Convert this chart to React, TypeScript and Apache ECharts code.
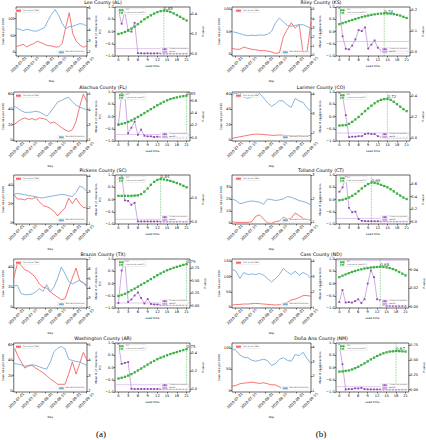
import React, { useEffect, useRef } from "react";
import * as echarts from "echarts";

const FONT = "DejaVu Sans";
const RED = "#f26565";
const BLUE = "#78acd6";
const GREEN = "#3cb043";
const PURPLE_LINE = "#bb8fd8";
const PURPLE_MARK = "#8e44ad";
const ALPHA_COLOR = "#c9a6e3";

const DATE_START = "2020-06-28";
const DATE_END = "2020-09-16";
const DATE_TICKS = ["2020-07-01", "2020-07-15", "2020-08-01", "2020-08-15", "2020-09-01", "2020-09-15"];
const SAMPLE_DATES = [
  "2020-06-28", "2020-07-02", "2020-07-06", "2020-07-10", "2020-07-14", "2020-07-18", "2020-07-22",
  "2020-07-26", "2020-07-30", "2020-08-03", "2020-08-07", "2020-08-11", "2020-08-15", "2020-08-19",
  "2020-08-23", "2020-08-27", "2020-08-31", "2020-09-04", "2020-09-08", "2020-09-12", "2020-09-16",
];
const LEAD_TIMES = [0, 1, 2, 3, 4, 5, 6, 7, 8, 9, 10, 11, 12, 13, 14, 15, 16, 17, 18, 19, 20, 21];
const LEAD_TICKS = [0, 3, 6, 9, 12, 15, 18, 21];
const LEAD_RANGE = [-1.05, 22.05];
const PCC_RANGE = [-1, 1];
const PCC_TICKS = [-1, -0.5, 0, 0.5, 1];
const ALPHA = 0.05;

const COUNTY_NAMES = [
  "Lee County (AL)", "Alachua County (FL)", "Pickens County (SC)", "Brazos County (TX)", "Washington County (AR)",
  "Riley County (KS)", "Larimer County (CO)", "Tolland County (CT)", "Cass County (ND)", "Doña Ana County (NM)",
];

// Case rate per 100K (left axis of left panels)
const LEE_CASE = [17, 20, 24, 16, 22, 26, 33, 29, 24, 20, 19, 16, 16, 26, 74, 118, 55, 33, 22, 15, 20];
const ALACHUA_CASE = [20, 23.5, 27, 29, 26.7, 28, 26, 29, 28, 26.7, 21.8, 23.5, 20, 16.4, 13.3, 11, 13.3, 24.4, 44, 60, 50];
const PICKENS_CASE = [30, 25, 25, 24, 26, 25, 27, 22, 18, 17, 15, 12, 7, 12, 15.5, 26, 20, 26, 20, 16, 15.5];
const BRAZOS_CASE = [29, 44, 41.7, 37.3, 35.7, 33, 29, 23, 19.7, 19, 15, 12.3, 9.7, 7.3, 8.3, 19, 29, 39, 26.3, 24, 21.7];
const WASHINGTON_CASE = [57.8, 46.7, 37.8, 29.8, 32.4, 33.3, 29.8, 26.7, 23.6, 20, 15.6, 12.4, 8.9, 8.9, 8.9, 22.2, 37.8, 22, 35.6, 50, 40];
const RILEY_CASE = [13, 11, 11, 16, 13, 11, 10, 8, 8, 7, 5, 2, 3, 39, 55, 70, 58, 66, 2, 5, 72];
const LARIMER_CASE = [2, 3, 4, 5, 6, 7, 7.5, 7.5, 7, 6.5, 6, 6, 6.5, 6, 5.5, 5, 5, 5.5, 5, 5, 6];
const TOLLAND_CASE = [1.4, 0.8, 0.8, 0.8, 0.8, 1.4, 5.8, 7, 3.6, 0.3, 0, 1.4, 2, 5, 3.6, 4.2, 8.6, 6.4, 4.2, 3, 3];
const CASS_CASE = [7.7, 8.8, 9.8, 10.9, 10.9, 12, 13, 12, 10.9, 9.8, 8.8, 7.7, 8.8, 9.8, 16.4, 24, 27, 31.7, 38.3, 38.3, 36];
const DONA_CASE = [10.6, 12.2, 16.3, 17.9, 18.7, 20.3, 18.7, 17, 18.7, 16.3, 13.8, 13.8, 8.9, 4];

// Mean # of interactions (right axis of left panels)
const LEE_MOB = [4.11, 4.06, 3.92, 4.06, 3.97, 3.89, 3.89, 4.06, 4.19, 4.83, 5.39, 5.81, 5.31, 4.56, 4.11, 4.28, 4.33, 4.44, 4.56, 4.5, 4.33];
const ALACHUA_MOB = [4.22, 4.11, 3.93, 3.82, 3.82, 3.84, 3.89, 3.84, 3.71, 3.56, 3.84, 4.16, 4.51, 4.6, 4.73, 4.82, 4.51, 4.29, 4.16, 4.07, 3.98];
const PICKENS_MOB = [2.86, 2.9, 2.86, 2.82, 2.78, 2.74, 2.7, 2.64, 2.62, 2.68, 2.72, 2.76, 2.8, 2.84, 2.82, 2.76, 2.7, 2.96, 3.36, 3.26, 3.0];
const BRAZOS_MOB = [4.24, 4.31, 3.45, 3.34, 3.34, 3.41, 3.62, 3.97, 3.69, 4.38, 3.62, 4.14, 5.07, 6.21, 5.52, 4.72, 4.45, 4.66, 4.83, 4.59, 4.1];
const WASHINGTON_MOB = [3.78, 3.76, 3.71, 3.62, 3.67, 3.71, 3.67, 3.58, 3.49, 3.44, 3.89, 4.56, 4.78, 4.89, 4.73, 4.07, 3.98, 3.93, 3.89, 3.78, 3.67];
const RILEY_MOB = [2.59, 2.48, 2.37, 2.22, 2.15, 2.19, 2.15, 2.22, 2.19, 2.3, 2.59, 3.52, 4.07, 3.63, 3.26, 3.15, 3.26, 3.33, 3.33, 3.15, 2.89];
const LARIMER_MOB = [4.0, 4.04, 4.1, 3.86, 3.79, 3.86, 3.96, 4.04, 3.82, 3.56, 3.37, 3.51, 3.68, 3.65, 3.44, 3.33, 3.79, 3.65, 3.58, 3.3, 3.12];
const TOLLAND_MOB = [2.0, 1.93, 1.8, 1.83, 1.89, 1.91, 1.89, 1.86, 1.77, 2.0, 1.97, 1.93, 1.96, 2.0, 2.1, 2.07, 2.0, 1.93, 1.89, 1.83, 1.74];
const CASS_MOB = [3.48, 3.35, 2.87, 3.26, 3.13, 3.17, 3.13, 3.2, 3.09, 2.87, 2.65, 2.87, 3.13, 3.52, 3.3, 3.13, 3.35, 3.09, 3.26, 3.13, 2.87];
const DONA_MOB = [3.9, 3.81, 3.48, 3.33, 3.29, 3.12, 3.05, 3.12, 3.19, 3.1, 2.76, 2.88, 3.19, 3.29, 3.12, 3.05, 3.52, 3.43, 3.67, 3.24, 2.88];

// PCC by lead time
const LEE_PCC = [-0.1, -0.07, -0.02, 0.05, 0.12, 0.2, 0.3, 0.4, 0.5, 0.58, 0.66, 0.73, 0.79, 0.83, 0.85, 0.84, 0.8, 0.74, 0.67, 0.6, 0.52, 0.45];
const ALACHUA_PCC = [-0.33, -0.3, -0.27, -0.22, -0.16, -0.09, -0.02, 0.06, 0.14, 0.22, 0.3, 0.38, 0.46, 0.53, 0.6, 0.66, 0.71, 0.75, 0.78, 0.81, 0.83, 0.85];
const PICKENS_PCC = [0.15, 0.15, 0.15, 0.15, 0.15, 0.16, 0.17, 0.22, 0.32, 0.45, 0.6, 0.72, 0.8, 0.84, 0.82, 0.79, 0.76, 0.72, 0.67, 0.62, 0.56, 0.5];
const BRAZOS_PCC = [-0.51, -0.47, -0.42, -0.35, -0.28, -0.21, -0.13, -0.05, 0.02, 0.1, 0.18, 0.26, 0.34, 0.41, 0.48, 0.54, 0.59, 0.64, 0.68, 0.72, 0.76, 0.79];
const WASHINGTON_PCC = [-0.45, -0.42, -0.38, -0.33, -0.27, -0.2, -0.12, -0.04, 0.04, 0.12, 0.2, 0.27, 0.34, 0.4, 0.45, 0.5, 0.55, 0.59, 0.63, 0.67, 0.71, 0.75];
const RILEY_PCC = [0.3, 0.34, 0.38, 0.43, 0.47, 0.51, 0.55, 0.59, 0.62, 0.65, 0.68, 0.7, 0.72, 0.73, 0.74, 0.735, 0.73, 0.71, 0.68, 0.65, 0.6, 0.55];
const LARIMER_PCC = [-0.37, -0.36, -0.35, -0.3, -0.22, -0.12, -0.02, 0.1, 0.22, 0.33, 0.44, 0.54, 0.62, 0.68, 0.71, 0.72, 0.68, 0.6, 0.5, 0.4, 0.3, 0.22];
const TOLLAND_PCC = [-0.03, -0.01, 0.03, 0.08, 0.15, 0.23, 0.34, 0.45, 0.55, 0.63, 0.69, 0.68, 0.65, 0.6, 0.55, 0.5, 0.42, 0.33, 0.24, 0.16, 0.08, 0.02];
const CASS_PCC = [0.26, 0.32, 0.37, 0.42, 0.47, 0.51, 0.55, 0.58, 0.61, 0.63, 0.65, 0.665, 0.675, 0.68, 0.675, 0.66, 0.63, 0.59, 0.54, 0.47, 0.4, 0.33];
const DONA_PCC = [-0.17, -0.16, -0.14, -0.12, -0.08, -0.03, 0.03, 0.1, 0.17, 0.25, 0.33, 0.4, 0.47, 0.53, 0.58, 0.62, 0.65, 0.66, 0.67, 0.668, 0.66, 0.65];

// P-values by lead time
const LEE_P = [0.435, 0.3, 0.418, 0.23, 0.22, 0.31, 0.004, 0.003, 0.002, 0.003, 0.002, 0.002, 0.003, 0.002, 0.002, 0.002, 0.002, 0.002, 0.002, 0.002, 0.002, 0.002];
const ALACHUA_P = [0.21, 0.71, 0.68, 0.07, 0.16, 0.26, 0.045, 0.13, 0.03, 0.02, 0.02, 0.01, 0.015, 0.01, 0.01, 0.005, 0.005, 0.005, 0.005, 0.005, 0.005, 0.005];
const PICKENS_P = [0.9, 0.96, 0.45, 0.44, 0.36, 0.4, 0.005, 0.004, 0.004, 0.004, 0.004, 0.004, 0.004, 0.004, 0.004, 0.004, 0.004, 0.004, 0.004, 0.004, 0.004, 0.004];
const BRAZOS_P = [0.05, 0.7, 0.88, 0.07, 0.12, 0.2, 0.26, 0.15, 0.04, 0.13, 0.03, 0.02, 0.02, 0.01, 0.01, 0.01, 0.01, 0.01, 0.01, 0.01, 0.01, 0.01];
const WASHINGTON_P = [0.5, 0.28, 0.29, 0.3, 0.005, 0.003, 0.003, 0.003, 0.003, 0.003, 0.003, 0.003, 0.003, 0.003, 0.003, 0.003, 0.003, 0.003, 0.003, 0.003, 0.003, 0.003];
const RILEY_P = [0.21, 0.075, 0.015, 0.012, 0.03, 0.06, 0.105, 0.1, 0.118, 0.016, 0.035, 0.055, 0.02, 0.006, 0.005, 0.004, 0.004, 0.004, 0.003, 0.003, 0.003, 0.003];
const LARIMER_P = [0.43, 0.4, 0.22, 0.01, 0.015, 0.015, 0.02, 0.02, 0.04, 0.045, 0.04, 0.04, 0.02, 0.01, 0.01, 0.01, 0.008, 0.008, 0.008, 0.008, 0.008, 0.008];
const TOLLAND_P = [0.48, 0.55, 0.72, 0.22, 0.15, 0.16, 0.04, 0.01, 0.005, 0.005, 0.005, 0.004, 0.004, 0.004, 0.004, 0.004, 0.004, 0.004, 0.004, 0.004, 0.004, 0.004];
const CASS_P = [0.005, 0.018, 0.0045, 0.005, 0.0045, 0.006, 0.008, 0.004, 0.008, 0.025, 0.039, 0.032, 0.008, 0.007, 0.002, 0.001, 0.001, 0.001, 0.001, 0.001, 0.001, 0.001];
const DONA_P = [0.76, 0.43, 0.003, 0.01, 0.01, 0.02, 0.02, 0.03, 0.01, 0.005, 0.005, 0.004, 0.004, 0.004, 0.004, 0.004, 0.004, 0.004, 0.004, 0.004, 0.004, 0.004];

// Axis ranges and tick labels
const CASE_RANGES = [[-11, 135], [-1.5, 63], [-1.5, 50.5], [-1, 48], [-1, 62], [-4, 105], [-1.5, 63], [-0.5, 39.7], [-2, 157], [-3, 112]];
const CASE_TICKS = [[0, 50, 100], [0, 20, 40, 60], [0, 20, 40], [0, 20, 40], [0, 20, 40, 60], [0, 50, 100], [0, 20, 40, 60], [0, 10, 20, 30], [0, 50, 100, 150], [0, 50, 100]];
const MOB_RANGES = [[1.65, 6.05], [1.93, 5.16], [1.0, 4.05], [1.95, 7.05], [1.96, 5.11], [-0.07, 5.26], [1.58, 4.12], [0.93, 3.02], [0.98, 4.13], [0.93, 4.31]];
const MOB_TICKS = [[2, 3, 4, 5, 6], [2, 3, 4, 5], [1, 2, 3, 4], [2, 3, 4, 5, 6, 7], [2, 3, 4, 5], [0, 1, 2, 3, 4, 5], [2, 3, 4], [1, 2, 3], [1, 2, 3, 4], [1, 2, 3, 4]];
const P_RANGES = [[-0.024, 0.468], [-0.055, 0.74], [-0.05, 0.99], [-0.05, 0.93], [-0.03, 0.51], [-0.02, 0.216], [-0.026, 0.44], [-0.04, 0.75], [-0.0014, 0.0515], [-0.04, 0.79]];
const P_TICKS = [[0, 0.2, 0.4], [0, 0.2, 0.4, 0.6], [0, 0.5], [0, 0.25, 0.5, 0.75], [0, 0.2, 0.4], [0, 0.1, 0.2], [0, 0.2, 0.4], [0, 0.2, 0.4, 0.6], [0, 0.02, 0.04], [0, 0.25, 0.5, 0.75]];
const P_DECIMALS = [1, 1, 1, 2, 1, 1, 1, 1, 2, 2];

const CASE_SERIES = [LEE_CASE, ALACHUA_CASE, PICKENS_CASE, BRAZOS_CASE, WASHINGTON_CASE, RILEY_CASE, LARIMER_CASE, TOLLAND_CASE, CASS_CASE, DONA_CASE];
const MOB_SERIES = [LEE_MOB, ALACHUA_MOB, PICKENS_MOB, BRAZOS_MOB, WASHINGTON_MOB, RILEY_MOB, LARIMER_MOB, TOLLAND_MOB, CASS_MOB, DONA_MOB];
const PCC_SERIES = [LEE_PCC, ALACHUA_PCC, PICKENS_PCC, BRAZOS_PCC, WASHINGTON_PCC, RILEY_PCC, LARIMER_PCC, TOLLAND_PCC, CASS_PCC, DONA_PCC];
const P_SERIES = [LEE_P, ALACHUA_P, PICKENS_P, BRAZOS_P, WASHINGTON_P, RILEY_P, LARIMER_P, TOLLAND_P, CASS_P, DONA_P];

// Layout
const W = 426;
const H = 440;
const ROW_TOPS = [7, 92, 175, 259, 343];
const PLOT_H = 49;
const COLS = [
  { left1: 12, width1: 75, left2: 115, width2: 75, center: 103, tag: "(a)" },
  { left1: 232, width1: 79, left2: 336, width2: 74, center: 321, tag: "(b)" },
];

const N_CASE = "Case rate per 100K";
const N_MOB = "Mean # of interactions";
const N_PCC = "PCC";
const N_LEAD = "Lead time for max(PCC)";
const N_P = "Granger test (p-value)";
const N_ALPHA = "α=0.05";

function dayList(start: string, end: string): string[] {
  const out: string[] = [];
  let t = Date.parse(start + "T00:00:00Z");
  const e = Date.parse(end + "T00:00:00Z");
  while (t <= e) {
    out.push(new Date(t).toISOString().slice(0, 10));
    t += 86400000;
  }
  return out;
}

function fmt(v: number, dec: number): string {
  const s = Math.abs(v).toFixed(dec);
  return (v < -1e-9 ? "\u2212" : "") + s;
}

const TICK_STYLE = { color: "#000", width: 0.5 };
const LABEL_BASE = { fontSize: 3.6, color: "#000", fontFamily: FONT };
const NAME_STYLE = { fontSize: 2.8, color: "#000", fontFamily: FONT };
const NO_LINE = { show: false, onZero: false };

function yAxis(gridIndex: number, position: string, range: number[], ticks: number[], dec: number, name: string, nameGap: number) {
  return {
    type: "value",
    gridIndex,
    position,
    min: range[0],
    max: range[1],
    splitLine: { show: false },
    axisLine: NO_LINE,
    axisTick: { show: true, length: 1.5, lineStyle: TICK_STYLE, customValues: ticks },
    axisLabel: { ...LABEL_BASE, show: true, margin: 1.3, customValues: ticks, formatter: (v: number) => fmt(v, dec) },
    name,
    nameLocation: "middle",
    nameRotate: 90,
    nameGap,
    nameTextStyle: NAME_STYLE,
  };
}

function legendBox(data: string[], pos: Record<string, number>) {
  return {
    data,
    ...pos,
    orient: "vertical",
    selectedMode: false,
    itemWidth: 5,
    itemHeight: 1.6,
    itemGap: 0.6,
    padding: [0.7, 1],
    backgroundColor: "rgba(255,255,255,0.85)",
    borderColor: "#cccccc",
    borderWidth: 0.3,
    borderRadius: 0.6,
    textStyle: { fontSize: 1.6, color: "#000", fontFamily: FONT, padding: [0, 0, 0, -3] },
  };
}

function buildOption() {
  const days = dayList(DATE_START, DATE_END);
  const isDateTick = (_i: number, val: string) => DATE_TICKS.includes(val);

  const grid: any[] = [];
  const xAxis: any[] = [];
  const yAxes: any[] = [];
  const series: any[] = [];
  const legend: any[] = [];
  const graphic: any[] = [];

  COUNTY_NAMES.forEach((name, i) => {
    const col = COLS[i < 5 ? 0 : 1];
    const top = ROW_TOPS[i % 5];
    const bottomPx = top + PLOT_H;
    const g1 = 2 * i;
    const g2 = 2 * i + 1;

    grid.push({ left: col.left1, top, width: col.width1, height: PLOT_H, show: true, borderColor: "#000", borderWidth: 0.6, containLabel: false });
    grid.push({ left: col.left2, top, width: col.width2, height: PLOT_H, show: true, borderColor: "#000", borderWidth: 0.6, containLabel: false });

    xAxis.push({
      type: "category",
      gridIndex: g1,
      position: "bottom",
      data: days,
      boundaryGap: false,
      axisLine: NO_LINE,
      splitLine: { show: false },
      axisTick: { show: true, length: 1.5, interval: isDateTick, lineStyle: TICK_STYLE },
      axisLabel: { ...LABEL_BASE, fontSize: 3.6, interval: isDateTick, rotate: 45, align: "center", verticalAlign: "middle", margin: 8.8 },
      name: "Day",
      nameLocation: "middle",
      nameGap: 23.5,
      nameTextStyle: NAME_STYLE,
    });
    xAxis.push({
      type: "value",
      gridIndex: g2,
      position: "bottom",
      min: LEAD_RANGE[0],
      max: LEAD_RANGE[1],
      axisLine: NO_LINE,
      splitLine: { show: false },
      axisTick: { show: true, length: 1.5, lineStyle: TICK_STYLE, customValues: LEAD_TICKS },
      axisLabel: { ...LABEL_BASE, margin: 1.5, customValues: LEAD_TICKS, formatter: (v: number) => String(v) },
      name: "Lead time",
      nameLocation: "middle",
      nameGap: 8.5,
      nameTextStyle: NAME_STYLE,
    });

    const yCase = yAxes.length;
    yAxes.push(yAxis(g1, "left", CASE_RANGES[i], CASE_TICKS[i], 0, N_CASE, 8.5));
    const yMob = yAxes.length;
    yAxes.push(yAxis(g1, "right", MOB_RANGES[i], MOB_TICKS[i], 0, N_MOB, 6.5));
    const yPcc = yAxes.length;
    yAxes.push(yAxis(g2, "left", PCC_RANGE, PCC_TICKS, 1, "PCC", 10.5));
    const yP = yAxes.length;
    yAxes.push(yAxis(g2, "right", P_RANGES[i], P_TICKS[i], P_DECIMALS[i], "P-value", P_DECIMALS[i] === 2 ? 11.5 : 9.5));

    const caseV = CASE_SERIES[i];
    const mobV = MOB_SERIES[i];
    const pccV = PCC_SERIES[i];
    const pV = P_SERIES[i];

    series.push({
      name: N_CASE, type: "line", xAxisIndex: g1, yAxisIndex: yCase,
      data: caseV.map((v, k) => [SAMPLE_DATES[k], v]),
      symbol: "none", smooth: false, lineStyle: { color: RED, width: 0.9 }, itemStyle: { color: RED }, z: 2,
    });
    series.push({
      name: N_MOB, type: "line", xAxisIndex: g1, yAxisIndex: yMob,
      data: mobV.map((v, k) => [SAMPLE_DATES[k], v]),
      symbol: "none", lineStyle: { color: BLUE, width: 0.9 }, itemStyle: { color: BLUE }, z: 3,
    });

    let maxK = 0;
    pccV.forEach((v, k) => { if (v > pccV[maxK]) maxK = k; });
    const maxLead = LEAD_TIMES[maxK];
    const maxVal = pccV[maxK];

    series.push({
      name: N_ALPHA, type: "line", xAxisIndex: g2, yAxisIndex: yP,
      data: [[LEAD_RANGE[0], ALPHA], [LEAD_RANGE[1], ALPHA]],
      symbol: "none", lineStyle: { color: ALPHA_COLOR, width: 0.6 }, itemStyle: { color: ALPHA_COLOR }, z: 2,
    });
    series.push({
      name: N_P, type: "line", xAxisIndex: g2, yAxisIndex: yP,
      data: LEAD_TIMES.map((l, k) => [l, pV[k]]),
      symbol: "rect", symbolSize: 1.8, showSymbol: true,
      lineStyle: { color: PURPLE_LINE, width: 0.75 }, itemStyle: { color: PURPLE_MARK }, z: 3,
    });
    series.push({
      name: N_LEAD, type: "line", xAxisIndex: g2, yAxisIndex: yPcc,
      data: [[maxLead, PCC_RANGE[0]], [maxLead, PCC_RANGE[1]]],
      symbol: "none", lineStyle: { color: GREEN, width: 0.6, type: [0.8, 0.8] }, itemStyle: { color: GREEN }, z: 3,
    });
    series.push({
      name: N_PCC, type: "line", xAxisIndex: g2, yAxisIndex: yPcc,
      data: LEAD_TIMES.map((l, k) => [l, pccV[k]]),
      symbol: "rect", symbolSize: 2.3, showSymbol: true,
      lineStyle: { color: GREEN, width: 0.75, type: [1.8, 1] }, itemStyle: { color: GREEN }, z: 4,
    });
    series.push({
      name: "max PCC", type: "scatter", xAxisIndex: g2, yAxisIndex: yPcc,
      data: [[maxLead, maxVal]], symbolSize: 0, silent: true, z: 5,
      label: {
        show: true, position: "top", distance: 0.3, align: "left",
        formatter: () => maxVal.toFixed(2), fontSize: 4, color: "#000", fontFamily: FONT,
      },
    });

    legend.push(legendBox([N_CASE], { left: col.left1 + 2, top: top + 2 }));
    legend.push(legendBox([N_MOB], { right: W - (col.left1 + col.width1) + 2, bottom: H - bottomPx + 2 }));
    legend.push(legendBox([N_PCC, N_LEAD], { left: col.left2 + 2, top: top + 1.5 }));
    legend.push(legendBox([N_P, N_ALPHA], { right: W - (col.left2 + col.width2) + 2, bottom: H - bottomPx + 2.5 }));

    graphic.push({
      type: "text", x: col.center, y: top - 4.3, silent: true,
      style: { text: name, fontSize: 4.7, fontFamily: FONT, fill: "#000", align: "center", verticalAlign: "middle" },
    });
  });

  COLS.forEach((col) => {
    graphic.push({
      type: "text", x: (col.left1 + col.left2 + col.width2) / 2, y: 434, silent: true,
      style: { text: col.tag, fontSize: 9, fontFamily: "Liberation Serif", fill: "#000", align: "center", verticalAlign: "middle" },
    });
  });

  return {
    animation: false,
    backgroundColor: "#ffffff",
    textStyle: { fontFamily: FONT },
    grid,
    xAxis,
    yAxis: yAxes,
    series,
    legend,
    graphic,
  };
}

export default function App() {
  const ref = useRef<HTMLDivElement | null>(null);
  useEffect(() => {
    if (!ref.current) return;
    const chart = echarts.init(ref.current, null, { renderer: "svg" });
    chart.setOption(buildOption() as any);
    return () => chart.dispose();
  }, []);
  return (
    <div
      ref={ref}
      style={{ position: "absolute", left: 0, top: 0, width: W, height: H, background: "#fff" }}
    />
  );
}
